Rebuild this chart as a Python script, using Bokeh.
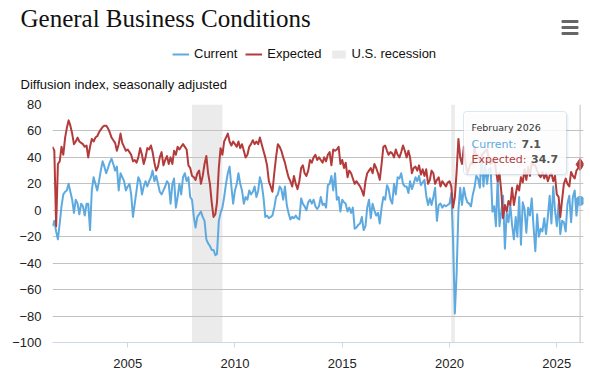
import pandas as pd
from bokeh.plotting import figure
from bokeh.layouts import column
from bokeh.models import (Range1d, Label, Legend, LegendItem, BoxAnnotation, Span,
                          DatetimeTickFormatter, FixedTicker)
from bokeh.embed import file_html
from bokeh.resources import INLINE

# ---------------- data (monthly, Jul 2001 - Feb 2026) ----------------
current = [
    -12, -8, -16, -22, -10, 3,                         # 2001 (Jul-Dec)
    12, 14, 15, 20, 14, 8, -2, 8, 5, -3, 5, 3,         # 2002
    -4, 5, 5, -15, 15, 25, 20, 15, 22, 30, 37, 33,     # 2003
    28, 32, 36, 39, 35, 30, 33, 15, 28, 25, 22, 15,    # 2004
    18, 20, 12, -5, 5, 15, 25, 22, 12, 18, 22, 18,     # 2005
    22, 25, 30, 22, 26, 20, 14, 12, 15, 18, 22, 20,    # 2006
    5, 20, 24, 2, 10, 20, 12, 25, 28, 22, 25, 10,      # 2007
    8, -5, -13, -5, -3, -1, -5, -8, -22, -25, -27, -30,  # 2008
    -30, -34, -33, -8, -2, 2, 10, 20, 28, 33, 18, 5,   # 2009
    15, 20, 28, 20, 15, 5, 10, 8, 15, 12, 14, 18,      # 2010
    10, 15, 25, 20, 10, -5, -4, -6, -5, -4, 2, 10,     # 2011
    12, 18, 16, 8, 18, 4, -2, -7, -5, -6, -4, -6,      # 2012
    -7, 9, 5, 3, 0, 6, 8, 5, 8, 3, 1, 3,               # 2013
    10, 4, 5, 2, 19, 20, 26, 15, 28, 8, 10, -1,        # 2014
    8, 6, 5, -1, 2, -2, 2, -14, -13, -11, -10, -5,     # 2015
    -15, -12, 2, 8, -6, 5, 0, -4, -2, -10, 2, 10,      # 2016
    8, 19, 16, 8, 5, 20, 12, 25, 24, 28, 20, 18,       # 2017
    18, 13, 22, 16, 20, 25, 22, 26, 19, 21, 23, 11,    # 2018
    4, 9, 4, 10, 17, -8, 4, 5, 2, 4, 3, 4,             # 2019
    5, 13, -22, -78, -48, 0, 17, 4, 17, 10, 6, 5,      # 2020
    3, 12, 17, 26, 24, 17, 43, 18, 34, 20, 31, 32,     # 2021
    -1, 3, -12, 25, -12, -1, 11, -29, -2, -9, 4, -11,  # 2022
    -22, -5, -20, 10, -26, 6, 1, -17, 2, -4, 9, -12,   # 2023
    -31, -3, -20, -14, -16, -6, -18, -5, 11, -10, 18, 0,  # 2024
    -12, 5, -18, -8, -9, -16, 5, 11, -9, 10, 15, -4,   # 2025
    7.7, 7.1,                                          # 2026 (Jan-Feb)
]
expected = [
    48, 45, -12, 35, 37, 48,                           # 2001 (Jul-Dec)
    42, 55, 62, 68, 64, 58, 50, 52, 55, 52, 51, 50,    # 2002
    48, 49, 40, 48, 54, 52, 55, 56, 59, 61, 63, 64,    # 2003
    64, 62, 59, 55, 53, 51, 45, 50, 58, 51, 48, 45,    # 2004
    46, 44, 42, 37, 38, 36, 40, 47, 42, 35, 40, 47,    # 2005
    46, 49, 44, 36, 30, 33, 40, 44, 34, 38, 41, 35,    # 2006
    40, 35, 45, 42, 48, 46, 48, 50, 48, 46, 34, 32,    # 2007
    26, 25, 23, 28, 30, 20, 26, 35, 41, 28, 20, 6,     # 2008
    -5, -3, 6, 32, 47, 42, 52, 55, 58, 52, 49, 52,     # 2009
    50, 48, 52, 47, 50, 45, 40, 42, 48, 50, 53, 50,    # 2010
    52, 50, 55, 50, 45, 40, 34, 22, 18, 14, 28, 40,    # 2011
    50, 48, 45, 40, 36, 30, 25, 22, 18, 26, 20, 16,    # 2012
    22, 32, 34, 28, 26, 30, 38, 36, 40, 42, 38, 40,    # 2013
    38, 36, 40, 37, 42, 44, 34, 46, 45, 46, 48, 35,    # 2014
    38, 32, 36, 25, 30, 28, 24, 20, 22, 20, 18, 15,    # 2015
    11, 22, 28, 30, 32, 28, 35, 32, 28, 23, 35, 48,    # 2016
    49, 45, 42, 44, 43, 40, 46, 42, 40, 44, 49, 45,    # 2017
    40, 45, 40, 28, 32, 33, 30, 34, 27, 31, 26, 31,    # 2018
    20, 23, 30, 28, 20, 23, 25, 18, 22, 20, 18, 21,    # 2019
    22, 18, 2, 10, 29, 54, 40, 35, 48, 35, 28, 32,     # 2020
    36, 35, 48, 40, 42, 37, 41, 43, 45, 46, 38, 35,    # 2021
    36, 40, 30, 22, 28, 14, -6, 4, -1, 7, 4, 17,       # 2022
    4, 12, 19, 15, 25, 21, 31, 23, 33, 26, 36, 34,     # 2023
    34, 30, 27, 25, 29, 24, 28, 22, 26, 28, 22, 26,    # 2024
    12, 10, -5, 8, 20, 24, 20, 18, 29, 26, 24, 30,     # 2025
    32, 34.7,                                          # 2026 (Jan-Feb)
]
start_month = "2001-07-01"
recession_start = ["2008-01-01", "2020-02-01"]
recession_end = ["2009-06-01", "2020-04-01"]
tick_years = [2005, 2010, 2015, 2020, 2025]
y_ticks = [-100, -80, -60, -40, -20, 0, 20, 40, 60, 80]
series_names = ["Current", "Expected", "U.S. recession"]

BLUE = "#5eaae0"
RED = "#b43b3b"
GRID = "#c2c2c2"
REC = "#ebebeb"
W = 590
HEAD_H = 96

dates = pd.date_range(start_month, periods=len(current), freq="MS")
rec_l = pd.to_datetime(recession_start)
rec_r = pd.to_datetime(recession_end)

# ---------------- header (title, legend, subtitle, menu icon) ----------------
head = figure(width=W, height=HEAD_H, output_backend="svg", toolbar_location=None,
              x_range=Range1d(0, W), y_range=Range1d(HEAD_H, 0),
              x_axis_location=None, y_axis_location=None,
              min_border=0, min_border_left=0, min_border_right=0,
              min_border_top=0, min_border_bottom=0)
head.frame_align = False
head.outline_line_color = None
head.xgrid.grid_line_color = None
head.ygrid.grid_line_color = None

head.add_layout(Label(x=20, y=18, text="General Business Conditions",
                     text_font="Liberation Serif", text_font_size="25px",
                     text_color="#111111", text_baseline="middle"))
head.add_layout(Label(x=20, y=84, text="Diffusion index, seasonally adjusted",
                     text_font="Liberation Sans", text_font_size="13px",
                     text_color="#111111", text_baseline="middle"))
# menu icon: three bars
for bar_y in (21, 27, 33):
    head.add_layout(BoxAnnotation(left=561, right=578, top=bar_y - 1.5, bottom=bar_y + 1.5,
                                  fill_color="#666666", fill_alpha=1, line_color=None,
                                  border_radius=1))

# legend renderers carry the real series; their values lie far outside the header's range
lg_cur = head.line(x=dates, y=current, line_color=BLUE, line_width=2)
lg_exp = head.line(x=dates, y=expected, line_color=RED, line_width=2)
lg_rec = head.quad(left=rec_l, right=rec_r, top=y_ticks[-1], bottom=y_ticks[0],
                   fill_color=REC, line_color=None)
legend = Legend(items=[LegendItem(label=series_names[0], renderers=[lg_cur]),
                       LegendItem(label=series_names[1], renderers=[lg_exp]),
                       LegendItem(label=series_names[2], renderers=[lg_rec])],
                orientation="horizontal", location=(172, HEAD_H - 61),
                border_line_color=None, background_fill_alpha=0, padding=0, margin=0,
                spacing=8, label_standoff=5, glyph_width=17, glyph_height=10,
                label_height=14, label_text_font="Liberation Sans",
                label_text_font_size="13px", label_text_color="#111111")
head.add_layout(legend, "center")

# ---------------- main chart ----------------
FL, FT, FB, FR = 52, 104, 342, 583
p = figure(width=W, height=377 - HEAD_H, x_axis_type="datetime", output_backend="svg",
           toolbar_location=None,
           x_range=Range1d(dates[0], dates[-1] + pd.Timedelta(days=58)),
           y_range=Range1d(y_ticks[0], y_ticks[-1]),
           min_border_left=FL, min_border_right=W - FR, min_border_top=FT - HEAD_H,
           min_border_bottom=377 - FB)
p.frame_align = False
p.outline_line_color = None

def sx(px):
    return px - FL
def sy(py):
    return FB - py

p.quad(left=rec_l, right=rec_r, bottom=y_ticks[0], top=y_ticks[-1],
       fill_color=REC, line_color=None, level="image")

p.xaxis.ticker = FixedTicker(ticks=[pd.Timestamp(f"{y}-01-01").timestamp() * 1000 for y in tick_years])
p.xaxis.formatter = DatetimeTickFormatter(years="%Y", months="%Y", days="%Y", hours="%Y")
p.xaxis.axis_line_color = "#ccd6eb"
p.xaxis.major_tick_line_color = "#ccd6eb"
p.xaxis.major_tick_out = 5
p.xaxis.major_tick_in = 0
p.xaxis.minor_tick_line_color = None
p.xaxis.major_label_standoff = 11
p.xaxis.major_label_text_font = "Liberation Sans"
p.xaxis.major_label_text_font_size = "13px"
p.xaxis.major_label_text_color = "#222222"
p.xgrid.grid_line_color = None

p.yaxis.ticker = FixedTicker(ticks=y_ticks)
p.yaxis.axis_line_color = None
p.yaxis.major_tick_line_color = None
p.yaxis.major_tick_out = 0
p.yaxis.major_tick_in = 0
p.yaxis.minor_tick_line_color = None
p.yaxis.major_label_standoff = 11
p.yaxis.major_label_text_font = "Liberation Sans"
p.yaxis.major_label_text_font_size = "13px"
p.yaxis.major_label_text_color = "#222222"
p.ygrid.ticker = FixedTicker(ticks=y_ticks[1:])
p.ygrid.grid_line_color = GRID

p.add_layout(Span(location=dates[-1].timestamp() * 1000, dimension="height",
                  line_color=GRID, line_width=1))

p.line(dates, current, line_color=BLUE, line_width=2, line_join="round")
p.line(dates, expected, line_color=RED, line_width=2, line_join="round")
p.scatter([dates[-1]], [current[-1]], marker="circle", size=9, fill_color=BLUE, line_color=BLUE)
p.scatter([dates[-1]], [expected[-1]], marker="diamond", size=12, fill_color=RED, line_color=RED)

# tooltip
p.add_layout(BoxAnnotation(left=sx(465), right=sx(568), top=sy(113), bottom=sy(176),
                           left_units="screen", right_units="screen",
                           top_units="screen", bottom_units="screen",
                           fill_color="#000000", fill_alpha=0.06, line_color=None,
                           border_radius=3, level="overlay"))
p.add_layout(BoxAnnotation(left=sx(463), right=sx(566), top=sy(111), bottom=sy(174),
                           left_units="screen", right_units="screen",
                           top_units="screen", bottom_units="screen",
                           fill_color="white", fill_alpha=0.85,
                           line_color="#7ab8e6", line_width=1, border_radius=3,
                           level="overlay"))
tip_font = "DejaVu Sans"
def tip(x, y, text, color, size="11px", style="normal"):
    p.add_layout(Label(x=sx(x), y=sy(y), x_units="screen", y_units="screen",
                       text=text, text_font=tip_font, text_font_size=size,
                       text_font_style=style, text_color=color,
                       text_baseline="middle", level="overlay"))
tip(471, 127, dates[-1].strftime("%B %Y"), "#333333", size="9.5px")
tip(471, 143.5, f"{series_names[0]}: ", BLUE)
tip(521, 143.5, f"{current[-1]}", "#555555", style="bold")
tip(471, 158.5, f"{series_names[1]}: ", RED)
tip(530.5, 158.5, f"{expected[-1]}", "#555555", style="bold")

layout = column(head, p, spacing=0)
open("out.html", "w").write(file_html(layout, INLINE))
